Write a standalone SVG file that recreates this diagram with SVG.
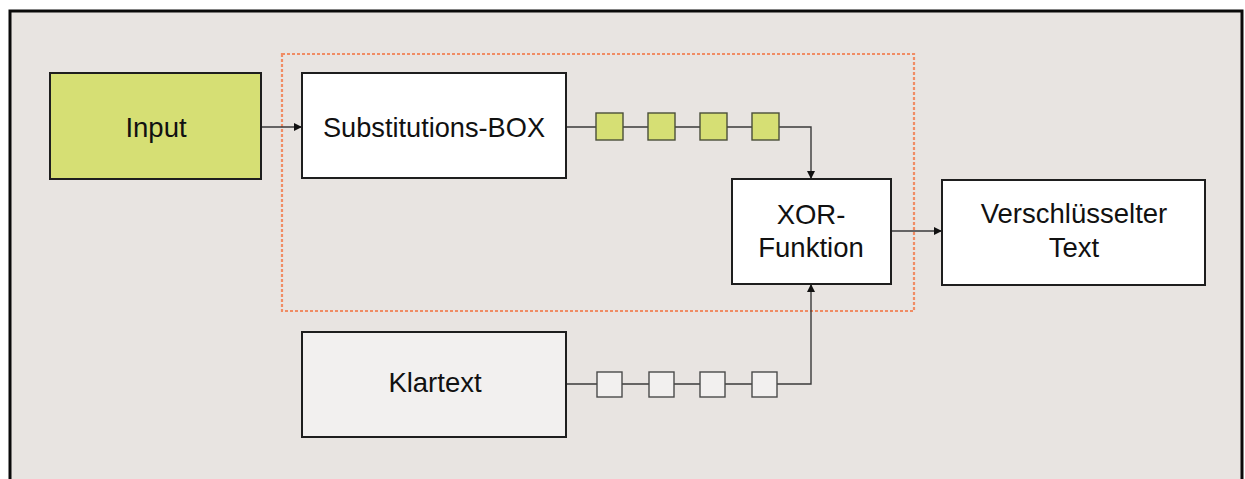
<svg xmlns="http://www.w3.org/2000/svg" width="1245" height="479" viewBox="0 0 1245 479">
  <style>
    .box { stroke: #1e1e1e; stroke-width: 2; }
    .lbl { font-family: "Liberation Sans", Arial, sans-serif; font-size: 27.5px; fill: #111; text-anchor: middle; }
    .wire { fill: none; stroke: #3a3a3a; stroke-width: 1.4; }
    .green { fill: #d6df74; stroke: #4a4f3a; stroke-width: 1.4; }
    .plain { fill: #f2f0ef; stroke: #4a4a4a; stroke-width: 1.4; }
  </style>
  <defs>
    <marker id="arrow" viewBox="0 0 10 10" refX="10" refY="5" markerWidth="9" markerHeight="8" markerUnits="userSpaceOnUse" orient="auto">
      <path d="M0,0 L10,5 L0,10 z" fill="#111"/>
    </marker>
  </defs>

  <!-- page -->
  <rect x="0" y="0" width="1245" height="479" fill="#ffffff"/>
  <rect x="10" y="11" width="1232" height="475" fill="#e8e4e1" stroke="#0a0a0a" stroke-width="3"/>

  <!-- S-box / XOR stage outline -->
  <rect id="stage" x="282" y="54" width="632" height="257" fill="none" stroke="#f08c64" stroke-width="2.2" stroke-dasharray="3 2"/>

  <!-- connectors -->
  <g id="connectors">
    <line class="wire" x1="261" y1="127" x2="302" y2="127" marker-end="url(#arrow)"/>
    <polyline class="wire" points="566,127 811,127 811,179" marker-end="url(#arrow)"/>
    <line class="wire" x1="891" y1="231" x2="942" y2="231" marker-end="url(#arrow)"/>
    <polyline class="wire" points="566,384 811,384 811,284" marker-end="url(#arrow)"/>
  </g>

  <!-- key stream bits -->
  <g id="keybits">
    <rect class="green" x="596" y="113" width="27" height="27"/>
    <rect class="green" x="648" y="113" width="27" height="27"/>
    <rect class="green" x="700" y="113" width="27" height="27"/>
    <rect class="green" x="752" y="113" width="27" height="27"/>
  </g>

  <!-- plaintext bits -->
  <g id="plainbits">
    <rect class="plain" x="597" y="372" width="25" height="25"/>
    <rect class="plain" x="649" y="372" width="25" height="25"/>
    <rect class="plain" x="700" y="372" width="25" height="25"/>
    <rect class="plain" x="752" y="372" width="25" height="25"/>
  </g>

  <g id="input">
    <rect class="box" x="50" y="73" width="211" height="106" fill="#d6df74"/>
    <text class="lbl" x="156" y="137">Input</text>
  </g>

  <g id="sbox">
    <rect class="box" x="302" y="73" width="264" height="105" fill="#ffffff"/>
    <text class="lbl" x="434" y="137" textLength="222" lengthAdjust="spacingAndGlyphs">Substitutions-BOX</text>
  </g>

  <g id="xor">
    <rect class="box" x="732" y="179" width="159" height="105" fill="#ffffff"/>
    <text class="lbl" x="811" y="224">XOR-</text>
    <text class="lbl" x="811" y="257">Funktion</text>
  </g>

  <g id="ciphertext">
    <rect class="box" x="942" y="180" width="263" height="105" fill="#ffffff"/>
    <text class="lbl" x="1074" y="223">Verschlüsselter</text>
    <text class="lbl" x="1074" y="257">Text</text>
  </g>

  <g id="klartext">
    <rect class="box" x="302" y="332" width="264" height="105" fill="#f2f0ef"/>
    <text class="lbl" x="435" y="392">Klartext</text>
  </g>
</svg>
